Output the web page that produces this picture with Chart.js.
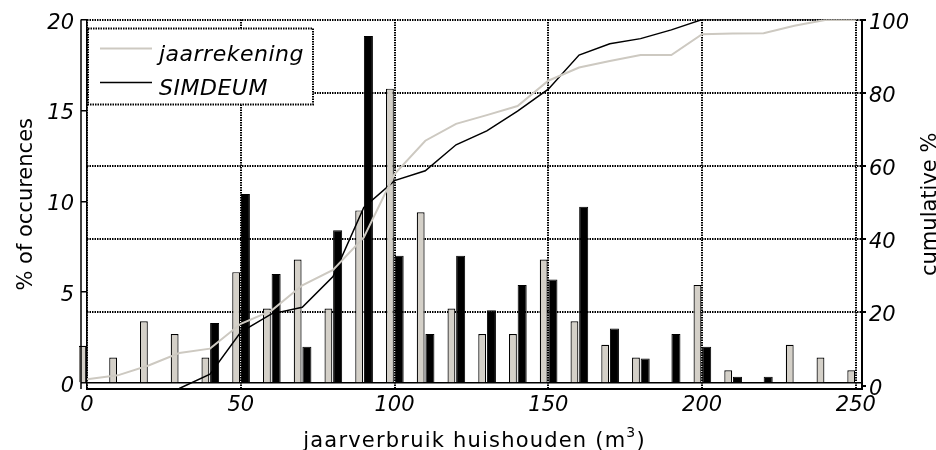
<!DOCTYPE html>
<html>
<head>
<meta charset="utf-8">
<script src="https://cdn.jsdelivr.net/npm/chart.js@4.4.1/dist/chart.umd.min.js"></script>
<style>
  body { margin: 0; background: #fff; }
  #wrap { width: 936px; height: 450px; }
</style>
</head>
<body>
<div id="wrap"><canvas id="grafico" width="936" height="450"></canvas></div>
<script>
// klassen jaarverbruik (m3)
const klassen = [0, 10, 20, 30, 40, 50, 60, 70, 80, 90, 100, 110, 120, 130, 140, 150, 160, 170, 180, 190, 200, 210, 220, 230, 240, 250];

// % of occurences per klasse
const jaarrekening = [2.05, 1.4, 3.4, 2.7, 1.4, 6.1, 4.1, 6.8, 4.1, 9.5, 16.2, 9.4, 4.1, 2.7, 2.7, 6.8, 3.4, 2.1, 1.4, 0, 5.4, 0.7, 0, 2.1, 1.4, 0.7];
const simdeum = [0, 0, 0, 0, 3.3, 10.4, 6.0, 2.0, 8.4, 19.1, 7.0, 2.7, 7.0, 4.0, 5.4, 5.7, 9.7, 3.0, 1.35, 2.7, 2.0, 0.35, 0.35, 0, 0, 0];

// cumulative %
const cumJaarrekening = [1.7, 2.8, 5.5, 8.9, 10.1, 16.9, 20.5, 27.4, 31.6, 40.5, 57.8, 66.9, 71.5, 73.9, 76.4, 83.3, 86.9, 88.7, 90.3, 90.3, 96.0, 96.2, 96.3, 98.3, 99.9, 99.9];
const cumSimdeum = [null, null, null, -0.8, 3.1, 14.6, 19.6, 21.4, 29.8, 48.7, 56.0, 58.7, 65.8, 69.6, 75.0, 81.0, 90.3, 93.4, 94.8, 97.2, 100, 100, 100, 100, 100, 100];

const series = ["jaarrekening", "SIMDEUM"];
const xTicks = [0, 50, 100, 150, 200, 250];
const yTicks = [0, 5, 10, 15, 20];
const y1Ticks = [0, 20, 40, 60, 80, 100];

const grijs = "#d4d0c8";
const grijsLijn = "#cdc9c1";
const dots = [1.5, 1];
const tickFont = { family: "DejaVu Sans", size: 21, style: "italic" };

function punten(waarden) {
  return klassen.map((k, i) => ({ x: k, y: waarden[i] }));
}

// legenda + astitels zelf tekenen
const opmaak = {
  id: "opmaak",
  afterDraw(chart) {
    const ctx = chart.ctx;
    const ca = chart.chartArea;
    ctx.save();

    // tweede lijn links van de y-as
    ctx.strokeStyle = "#000";
    ctx.lineWidth = 1.5;
    ctx.beginPath();
    ctx.moveTo(ca.left - 6, ca.top);
    ctx.lineTo(ca.left - 6, ca.bottom);
    ctx.stroke();

    // legenda
    const bx = ca.left + 1, by = ca.top + 9, bw = 225, bh = 76;
    ctx.fillStyle = "#fff";
    ctx.fillRect(bx, by, bw, bh);
    ctx.setLineDash(dots);
    ctx.lineWidth = 2;
    ctx.strokeStyle = "#000";
    ctx.strokeRect(bx, by, bw, bh);
    ctx.setLineDash([]);
    const kleuren = [grijsLijn, "#000"];
    const breedtes = [2, 1.5];
    ctx.font = 'italic 22px "DejaVu Sans"';
    ctx.textBaseline = "alphabetic";
    ctx.textAlign = "left";
    ctx.letterSpacing = "0.5px";
    for (let i = 0; i < series.length; i++) {
      const base = by + 32 + i * 34;
      ctx.beginPath();
      ctx.strokeStyle = kleuren[i];
      ctx.lineWidth = breedtes[i];
      ctx.moveTo(bx + 12, base - 12);
      ctx.lineTo(bx + 64, base - 12);
      ctx.stroke();
      ctx.fillStyle = "#000";
      ctx.fillText(series[i], bx + 71, base);
    }
    ctx.letterSpacing = "0px";

    // y titel links
    ctx.font = '21px "DejaVu Sans"';
    ctx.textAlign = "center";
    ctx.save();
    ctx.translate(32, (ca.top + ca.bottom) / 2);
    ctx.rotate(-Math.PI / 2);
    ctx.fillText("% of occurences", 0, 0);
    ctx.restore();

    // y titel rechts
    ctx.save();
    ctx.translate(936, (ca.top + ca.bottom) / 2);
    ctx.rotate(-Math.PI / 2);
    ctx.fillText("cumulative %", 0, 0);
    ctx.restore();

    // x titel met superscript
    ctx.textAlign = "left";
    ctx.letterSpacing = "1.2px";
    const deel1 = "jaarverbruik huishouden (m";
    const sup = "3";
    const deel2 = ")";
    ctx.font = '21px "DejaVu Sans"';
    const w1 = ctx.measureText(deel1).width;
    const w3 = ctx.measureText(deel2).width;
    ctx.font = '14px "DejaVu Sans"';
    const w2 = ctx.measureText(sup).width;
    let x = (ca.left + ca.right) / 2 - (w1 + w2 + w3) / 2;
    const yb = 446.5;
    ctx.font = '21px "DejaVu Sans"';
    ctx.fillText(deel1, x, yb);
    x += w1;
    ctx.font = '14px "DejaVu Sans"';
    ctx.fillText(sup, x, yb - 10);
    x += w2;
    ctx.font = '21px "DejaVu Sans"';
    ctx.fillText(deel2, x, yb);
    ctx.restore();
  }
};

let config = {
  type: "bar",
  data: {
    datasets: [
      {
        label: series[0],
        data: punten(jaarrekening),
        backgroundColor: grijs,
        borderColor: "#000",
        borderWidth: 1.2,
        yAxisID: "y",
        order: 2,
        categoryPercentage: 0.6,
        barPercentage: 0.85,
        clip: { left: 8, top: 0, right: 0, bottom: 0 },
      },
      {
        label: series[1],
        data: punten(simdeum),
        backgroundColor: "#000",
        borderColor: "#000",
        borderWidth: 1,
        yAxisID: "y",
        order: 2,
        categoryPercentage: 0.6,
        barPercentage: 0.98,
      },
      {
        type: "line",
        label: series[0],
        data: punten(cumJaarrekening),
        borderColor: grijsLijn,
        borderWidth: 2,
        pointRadius: 0,
        tension: 0,
        yAxisID: "y1",
        order: 0,
      },
      {
        type: "line",
        label: series[1],
        data: punten(cumSimdeum),
        borderColor: "#000",
        borderWidth: 1.5,
        pointRadius: 0,
        tension: 0,
        yAxisID: "y1",
        order: 0,
      },
    ],
  },
  options: {
    responsive: false,
    animation: false,
    layout: { padding: { top: 18, left: 0, right: 0, bottom: 0 } },
    plugins: {
      legend: { display: false },
      tooltip: { enabled: false },
    },
    scales: {
      x: {
        type: "linear",
        min: 0,
        max: 252,
        offset: false,
        afterBuildTicks: (s) => { s.ticks = xTicks.map((v) => ({ value: v })); },
        afterFit: (s) => { s.height = 61; },
        ticks: { font: tickFont, color: "#000", padding: 4, maxRotation: 0, autoSkip: false },
        grid: { offset: false, color: "#000", lineWidth: 2, drawTicks: false },
        border: { color: "#000", width: 2, dash: dots },
      },
      y: {
        position: "left",
        min: -0.33,
        max: 20,
        afterBuildTicks: (s) => { s.ticks = yTicks.map((v) => ({ value: v })); },
        afterFit: (s) => { s.width = 87; },
        ticks: { font: tickFont, color: "#000", padding: 7, labelOffset: 3.5 },
        grid: {
          color: (c) => (c.tick && c.tick.value === 0 ? "#000" : "rgba(0,0,0,0)"),
          tickColor: "#000",
          tickLength: 6,
          lineWidth: 1.5,
        },
        border: { color: "#000", width: 1.5, dash: [] },
      },
      y1: {
        position: "right",
        min: -0.93,
        max: 100,
        afterBuildTicks: (s) => { s.ticks = y1Ticks.map((v) => ({ value: v })); },
        afterFit: (s) => { s.width = 74; },
        ticks: { font: tickFont, color: "#000", padding: 3, labelOffset: 3.5 },
        grid: {
          color: (c) => (c.tick && c.tick.value === 0 ? "rgba(0,0,0,0)" : "#000"),
          tickColor: "#000",
          tickLength: 4,
          lineWidth: 2,
        },
        border: { color: "#000", width: 2, dash: dots },
      },
    },
  },
  plugins: [opmaak],
};

var grafico = new Chart(document.getElementById("grafico"), config);
</script>
</body>
</html>
